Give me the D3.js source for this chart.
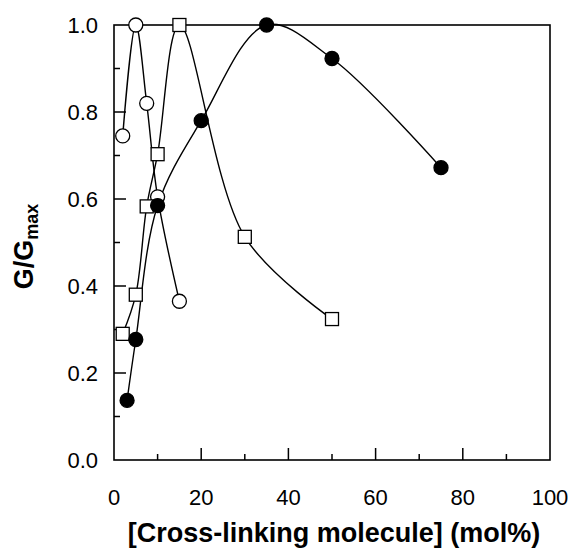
<!DOCTYPE html>
<html>
<head>
<meta charset="utf-8">
<script src="https://cdn.jsdelivr.net/npm/d3@7"></script>
<style>
  body { margin: 0; background: #fff; }
  text { font-family: "Liberation Sans", Arial, sans-serif; fill: #000; }
</style>
</head>
<body>
<div id="chart"></div>
<script>
var svgWidth = 571;
var svgHeight = 549;

var margin = { top: 25, right: 21, bottom: 89, left: 114 };
var width = svgWidth - margin.left - margin.right;
var height = svgHeight - margin.top - margin.bottom;

// data
var openCircleX = [2, 5, 7.5, 10, 15];
var openCircleY = [0.745, 1.0, 0.82, 0.605, 0.365];

var openSquareX = [2, 5, 7.5, 10, 15, 30, 50];
var openSquareY = [0.29, 0.38, 0.583, 0.703, 1.0, 0.513, 0.324];

var filledCircleX = [3, 5, 10, 20, 35, 50, 75];
var filledCircleY = [0.137, 0.277, 0.585, 0.78, 1.0, 0.923, 0.672];

var xTicks = [0, 20, 40, 60, 80, 100];
var yTicks = [0.0, 0.2, 0.4, 0.6, 0.8, 1.0];

var svg = d3.select("#chart")
  .append("svg")
  .attr("width", svgWidth)
  .attr("height", svgHeight);

var chartGroup = svg.append("g")
  .attr("transform", `translate(${margin.left}, ${margin.top})`);

var xScale = d3.scaleLinear().domain([0, 100]).range([0, width]);
var yScale = d3.scaleLinear().domain([0, 1]).range([height, 0]);

function pairs(xs, ys) {
  return xs.map(function(x, i) { return { x: x, y: ys[i] }; });
}

// frame
chartGroup.append("rect")
  .attr("width", width)
  .attr("height", height)
  .attr("fill", "none")
  .attr("stroke", "#000")
  .attr("stroke-width", 1.6);

// x axis ticks (inward)
var xMinor = d3.range(10, 100, 20);
chartGroup.selectAll(".xmaj").data(xTicks.slice(1, -1)).enter().append("line")
  .attr("x1", d => xScale(d)).attr("x2", d => xScale(d))
  .attr("y1", height).attr("y2", height - 12)
  .attr("stroke", "#000").attr("stroke-width", 1.5);
chartGroup.selectAll(".xmin").data(xMinor).enter().append("line")
  .attr("x1", d => xScale(d)).attr("x2", d => xScale(d))
  .attr("y1", height).attr("y2", height - 6)
  .attr("stroke", "#000").attr("stroke-width", 1.5);

// y axis ticks (inward)
var yMinor = d3.range(0.1, 1.0, 0.2);
chartGroup.selectAll(".ymaj").data(yTicks.slice(1, -1)).enter().append("line")
  .attr("x1", 0).attr("x2", 12)
  .attr("y1", d => yScale(d)).attr("y2", d => yScale(d))
  .attr("stroke", "#000").attr("stroke-width", 1.5);
chartGroup.selectAll(".ymin").data(yMinor).enter().append("line")
  .attr("x1", 0).attr("x2", 6)
  .attr("y1", d => yScale(d)).attr("y2", d => yScale(d))
  .attr("stroke", "#000").attr("stroke-width", 1.5);

// tick labels
chartGroup.selectAll(".xlab").data(xTicks).enter().append("text")
  .attr("x", d => xScale(d))
  .attr("y", height + 45)
  .attr("text-anchor", "middle")
  .style("font-size", "22px")
  .text(d => d);

chartGroup.selectAll(".ylab").data(yTicks).enter().append("text")
  .attr("x", -16)
  .attr("y", d => yScale(d))
  .attr("dy", "0.36em")
  .attr("text-anchor", "end")
  .style("font-size", "22px")
  .text(d => d.toFixed(1));

// curves
var line = d3.line()
  .x(d => xScale(d.x))
  .y(d => yScale(d.y))
  .curve(d3.curveCatmullRom.alpha(0.5));

var series = [
  { data: pairs(openCircleX, openCircleY), shape: "circle", fill: "#fff" },
  { data: pairs(openSquareX, openSquareY), shape: "square", fill: "#fff" },
  { data: pairs(filledCircleX, filledCircleY), shape: "circle", fill: "#000" }
];

series.forEach(function(s) {
  chartGroup.append("path")
    .datum(s.data)
    .attr("d", line)
    .attr("fill", "none")
    .attr("stroke", "#000")
    .attr("stroke-width", 1.4);
});

series.forEach(function(s) {
  if (s.shape === "circle") {
    chartGroup.selectAll(null).data(s.data).enter().append("circle")
      .attr("cx", d => xScale(d.x))
      .attr("cy", d => yScale(d.y))
      .attr("r", 7)
      .attr("fill", s.fill)
      .attr("stroke", "#000")
      .attr("stroke-width", 1.3);
  } else {
    chartGroup.selectAll(null).data(s.data).enter().append("rect")
      .attr("x", d => xScale(d.x) - 6.5)
      .attr("y", d => yScale(d.y) - 6.5)
      .attr("width", 13)
      .attr("height", 13)
      .attr("fill", s.fill)
      .attr("stroke", "#000")
      .attr("stroke-width", 1.3);
  }
});

// axis titles
chartGroup.append("text")
  .attr("x", width / 2 + 2)
  .attr("y", height + 82)
  .attr("text-anchor", "middle")
  .style("font-size", "27px")
  .style("font-weight", "bold")
  .text("[Cross-linking molecule] (mol%)");

var yTitle = chartGroup.append("text")
  .attr("transform", `translate(${-81}, ${height / 2 + 4}) rotate(-90)`)
  .attr("text-anchor", "middle")
  .style("font-size", "27px")
  .style("font-weight", "bold");
yTitle.append("tspan").text("G/G");
yTitle.append("tspan")
  .attr("dy", "0.25em")
  .style("font-size", "18px")
  .text("max");
</script>
</body>
</html>
